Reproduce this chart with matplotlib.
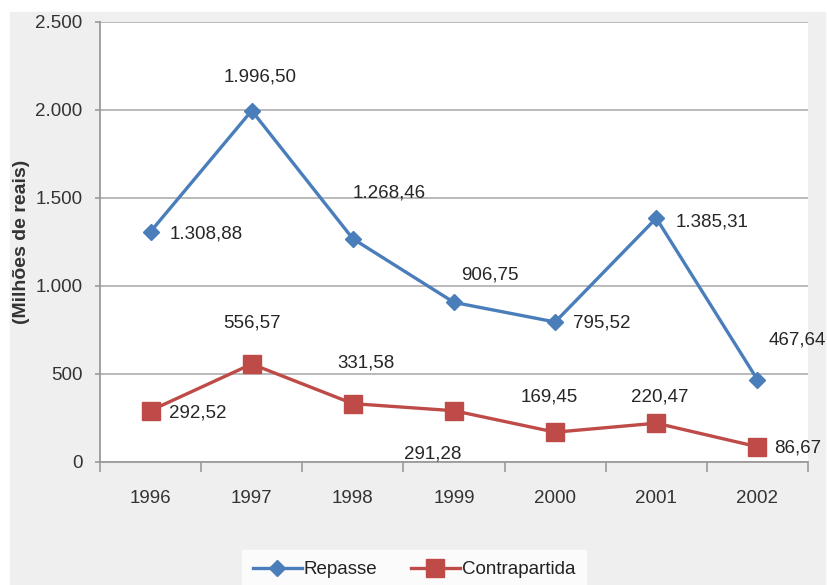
import matplotlib.pyplot as plt
from matplotlib.patches import Rectangle
from matplotlib.ticker import FuncFormatter

# Dados (milhões de reais)
anos = ['1996', '1997', '1998', '1999', '2000', '2001', '2002']
repasse = [1308.88, 1996.50, 1268.46, 906.75, 795.52, 1385.31, 467.64]
contrapartida = [292.52, 556.57, 331.58, 291.28, 169.45, 220.47, 86.67]
rotulos_repasse = ['1.308,88', '1.996,50', '1.268,46', '906,75', '795,52', '1.385,31', '467,64']
rotulos_contra = ['292,52', '556,57', '331,58', '291,28', '169,45', '220,47', '86,67']

# deslocamento dos rótulos (pixels)
desl_repasse = [(56, -2), (8, 34), (36, 46), (36, 27), (47, -1), (56, -4), (40, 40)]
desl_contra = [(47, -2), (0, 41), (13, 41), (-21, -43), (-6, 35), (3, 26), (40, -1)]

azul = '#4a7ebb'
vermelho = '#be4b48'
cinza_fundo = '#efefef'
plt.rcParams['font.family'] = ['Liberation Sans', 'DejaVu Sans']
plt.rcParams['font.size'] = 13

W, H = 827, 585
fig = plt.figure(figsize=(W / 100, H / 100), dpi=100, facecolor='white')
fig.patches.append(Rectangle((10 / W, 0), (825 - 10) / W, (H - 12) / H,
                             transform=fig.transFigure, color=cinza_fundo, zorder=-10))

ax = fig.add_axes([100 / W, (H - 462) / H, (808 - 100) / W, (462 - 22) / H])
ax.set_facecolor('white')

x = range(len(anos))
ax.plot(x, repasse, color=azul, lw=2.4, marker='D', ms=8.5, label='Repasse', zorder=3)
ax.plot(x, contrapartida, color=vermelho, lw=2.4, marker='s', ms=13, label='Contrapartida', zorder=3)

for i in x:
    ax.annotate(rotulos_repasse[i], (i, repasse[i]), xytext=desl_repasse[i],
                textcoords='offset pixels', ha='center', va='center', fontsize=13.5, color='#262626')
    ax.annotate(rotulos_contra[i], (i, contrapartida[i]), xytext=desl_contra[i],
                textcoords='offset pixels', ha='center', va='center', fontsize=13.5, color='#262626')

ax.set_xlim(-0.5, 6.5)
ax.set_ylim(0, 2500)
ax.set_yticks([0, 500, 1000, 1500, 2000, 2500])
ax.yaxis.set_major_formatter(FuncFormatter(lambda v, p: f'{int(v):,}'.replace(',', '.')))
ax.set_xticks(list(x))
ax.set_xticklabels(anos)
ax.set_xticks([i - 0.5 for i in range(len(anos) + 1)], minor=True)
ax.tick_params(axis='x', which='major', length=0, pad=20, labelsize=13.5, labelcolor='#333333')
ax.tick_params(axis='x', which='minor', length=7, color='#9a9a9a', width=1.2)
ax.tick_params(axis='y', length=3.6, color='#9a9a9a', width=1.2, pad=9, labelsize=13.5, labelcolor='#333333')

ax.grid(axis='y', color='#b4b4b4', lw=1.3)
ax.set_axisbelow(True)
for s in ['top', 'right']:
    ax.spines[s].set_visible(False)
for s in ['left', 'bottom']:
    ax.spines[s].set_color('#9a9a9a')
    ax.spines[s].set_linewidth(1.3)

fig.text(22 / W, (H - 242) / H, '(Milhões de reais)', rotation=90, ha='center', va='center',
         fontsize=14, fontweight='bold', color='#333333')

leg = fig.legend(loc='upper center', bbox_to_anchor=(414 / W, (H - 550) / H), ncol=2,
                 frameon=True, fancybox=False, handlelength=2.6, columnspacing=1.8,
                 handletextpad=0.1, fontsize=13.5, borderpad=0.6, borderaxespad=0)
leg.get_frame().set_facecolor('white')
leg.get_frame().set_edgecolor('white')
for t in leg.get_texts():
    t.set_color('#222222')

plt.savefig('out.png', dpi=100, facecolor=fig.get_facecolor())
